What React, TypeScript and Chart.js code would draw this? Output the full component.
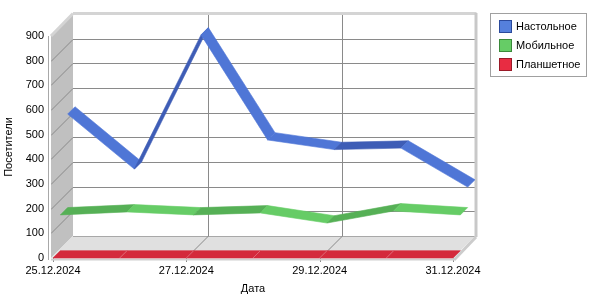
import React, { useEffect, useRef } from 'react';
import { Chart, registerables } from 'chart.js';

Chart.register(...registerables);

const categories = ['25.12.2024', '26.12.2024', '27.12.2024', '28.12.2024', '29.12.2024', '30.12.2024', '31.12.2024'];
const seriesNames = ['Настольное', 'Мобильное', 'Планшетное'];
const desktop = [524, 301, 845, 419, 380, 386, 228];
const mobile = [145, 157, 145, 153, 112, 161, 145];
const tablet = [0, 0, 0, 0, 0, 0, 0];
const yTicks = [0, 100, 200, 300, 400, 500, 600, 700, 800, 900];
const xTitle = 'Дата';
const yTitle = 'Посетители';

const palette = [
  { base: '#4f76d6', dark: '#3e5db6', legend: '#5580dc', border: '#2b4a9c' },
  { base: '#66cc66', dark: '#56b056', legend: '#66cc66', border: '#3a8a3a' },
  { base: '#d42a3c', dark: '#d42a3c', legend: '#e82c42', border: '#9a1a28' },
];

const DX = 22;
const DY = 22;

function poly(ctx: CanvasRenderingContext2D, pts: number[][], fill: string, stroke?: string) {
  ctx.beginPath();
  ctx.moveTo(pts[0][0], pts[0][1]);
  for (let i = 1; i < pts.length; i++) ctx.lineTo(pts[i][0], pts[i][1]);
  ctx.closePath();
  ctx.fillStyle = fill;
  ctx.fill();
  if (stroke) {
    ctx.strokeStyle = stroke;
    ctx.lineWidth = 0.6;
    ctx.stroke();
  }
}

function line(ctx: CanvasRenderingContext2D, x1: number, y1: number, x2: number, y2: number, color: string, w = 1) {
  ctx.beginPath();
  ctx.moveTo(x1, y1);
  ctx.lineTo(x2, y2);
  ctx.strokeStyle = color;
  ctx.lineWidth = w;
  ctx.stroke();
}

const box3d = {
  id: 'box3d',
  beforeDatasetsDraw(chart: any) {
    const { ctx, chartArea: a, scales } = chart;
    const xs = scales.x;
    const ys = scales.y;
    const L = a.left - 2;
    const R = a.right;
    const T = a.top;
    const B = a.bottom;
    ctx.save();
    // back wall
    ctx.fillStyle = '#ffffff';
    ctx.fillRect(L + DX, T - DY, R - L, B - T);
    // side wall
    poly(ctx, [[L, B], [L, T], [L + DX, T - DY], [L + DX, B - DY]], '#c0c0c0');
    // floor
    poly(ctx, [[L, B], [R, B], [R + DX, B - DY], [L + DX, B - DY]], '#e0e0e0');
    // horizontal grid
    for (const v of yTicks) {
      if (v === yTicks[0] || v === yTicks[yTicks.length - 1]) continue;
      const py = Math.round(ys.getPixelForValue(v)) + 0.5;
      line(ctx, L + DX, py - DY, R + DX, py - DY, '#8a8a8a');
      line(ctx, L, py, L + DX, py - DY, '#8a8a8a');
    }
    line(ctx, L + DX, B - DY + 0.5, R + DX, B - DY + 0.5, '#a8a8a8');
    // vertical grid at labelled categories
    for (let i = 2; i < categories.length - 1; i += 2) {
      const px = Math.round(xs.getPixelForValue(i)) + 0.5;
      line(ctx, px + DX, T - DY, px + DX, B - DY, '#8a8a8a');
      line(ctx, px, B, px + DX, B - DY, '#8a8a8a');
    }
    // tick marks
    for (let i = 0; i < categories.length; i += 2) {
      const px = Math.round(xs.getPixelForValue(i)) + 0.5;
      line(ctx, px, B, px, B + 4, '#8a8a8a');
    }
    // bevel edges
    line(ctx, L + DX, T - DY - 0.5, R + DX + 1.5, T - DY - 0.5, '#d4d4d4', 3);
    line(ctx, L, T, L + DX, T - DY - 0.5, '#d4d4d4', 3);
    line(ctx, R + DX + 1, T - DY - 1, R + DX + 1, B - DY + 1, '#c8c8c8', 3);
    line(ctx, R + DX + 1, B - DY + 1, R + 1, B + 2, '#cccccc', 3);
    line(ctx, L, B + 1.5, R + 1, B + 1.5, '#d0d0d0', 2);
    line(ctx, L - 1, T, L - 1, B + 1, '#ffffff', 2);
    line(ctx, L - 2.5, T, L - 2.5, B + 2, '#a8a8a8', 1);
    ctx.restore();
  },
  afterDatasetsDraw(chart: any) {
    const { ctx } = chart;
    const n = chart.data.datasets.length;
    ctx.save();
    for (let k = 0; k < n; k++) {
      const meta = chart.getDatasetMeta(k);
      const data = chart.data.datasets[k].data as number[];
      const row = n - 1 - k;
      const f = row / n;
      const b = (row + 1) / n;
      const c = palette[k];
      const pts = meta.data.map((e: any) => ({ x: e.x, y: e.y }));
      for (let i = 0; i < pts.length - 1; i++) {
        const p0 = pts[i];
        const p1 = pts[i + 1];
        const quad = [
          [p0.x + f * DX, p0.y - f * DY],
          [p1.x + f * DX, p1.y - f * DY],
          [p1.x + b * DX, p1.y - b * DY],
          [p0.x + b * DX, p0.y - b * DY],
        ];
        const col = data[i + 1] > data[i] ? c.dark : c.base;
        poly(ctx, quad, col, col);
      }
      if (k === n - 1) {
        for (let i = 1; i < pts.length - 1; i++) {
          const p = pts[i];
          line(ctx, p.x + f * DX, p.y - f * DY, p.x + b * DX, p.y - b * DY, 'rgba(255,255,255,0.25)', 1);
        }
      }
    }
    ctx.restore();
  },
  afterDraw(chart: any) {
    const { ctx } = chart;
    ctx.save();
    ctx.fillStyle = '#ffffff';
    ctx.fillRect(490.5, 13.5, 96, 63);
    ctx.strokeStyle = '#a0a0a0';
    ctx.lineWidth = 1;
    ctx.strokeRect(490.5, 13.5, 96, 63);
    ctx.font = '11px "Liberation Sans", Arial, sans-serif';
    ctx.textBaseline = 'middle';
    ctx.textAlign = 'left';
    chart.data.datasets.forEach((ds: any, i: number) => {
      const top = 20.5 + i * 19;
      ctx.fillStyle = palette[i].legend;
      ctx.fillRect(499.5, top, 12, 12);
      ctx.strokeStyle = palette[i].border;
      ctx.strokeRect(499.5, top, 12, 12);
      ctx.fillStyle = '#000000';
      ctx.fillText(ds.label, 516, top + 6.5);
    });
    ctx.restore();
  },
};

export default function App() {
  const ref = useRef<HTMLCanvasElement>(null);
  useEffect(() => {
    const canvas = ref.current;
    if (!canvas) return;
    Chart.defaults.font.family = '"Liberation Sans", Arial, sans-serif';
    Chart.defaults.font.size = 11;
    Chart.defaults.color = '#000000';
    const chart = new Chart(canvas, {
      type: 'line',
      data: {
        labels: categories,
        datasets: [
          { label: seriesNames[0], data: desktop, showLine: false, pointRadius: 0, borderColor: palette[0].base, backgroundColor: palette[0].base },
          { label: seriesNames[1], data: mobile, showLine: false, pointRadius: 0, borderColor: palette[1].base, backgroundColor: palette[1].base },
          { label: seriesNames[2], data: tablet, showLine: false, pointRadius: 0, borderColor: palette[2].base, backgroundColor: palette[2].base },
        ],
      },
      options: {
        responsive: false,
        animation: false,
        events: [],
        layout: { padding: { top: 36, right: 147, bottom: 0, left: 0 } },
        plugins: { legend: { display: false }, tooltip: { enabled: false } },
        scales: {
          x: {
            type: 'category',
            offset: false,
            grid: { display: false, drawTicks: true, tickLength: 4 },
            border: { display: false },
            ticks: {
              autoSkip: false,
              maxRotation: 0,
              padding: 2,
              color: '#000000',
              callback: (_v: any, i: number) => (i % 2 === 0 ? categories[i] : ''),
            },
            title: { display: true, text: xTitle, color: '#000000', padding: { top: 4, bottom: 4 } },
            afterFit: (s: any) => { s.height = 42; },
          },
          y: {
            type: 'linear',
            min: yTicks[0],
            max: yTicks[yTicks.length - 1],
            grid: { display: false, drawTicks: false },
            border: { display: false },
            ticks: { stepSize: 100, padding: 9, color: '#000000' },
            title: { display: true, text: yTitle, color: '#000000', padding: { top: 2, bottom: 0 } },
            afterFit: (s: any) => { s.width = 53; },
          },
        },
      },
      plugins: [box3d],
    } as any);
    return () => chart.destroy();
  }, []);
  return (
    <div style={{ position: 'fixed', left: 0, top: 0, width: 600, height: 300, background: '#ffffff' }}>
      <canvas ref={ref} width={600} height={300} style={{ display: 'block' }} />
    </div>
  );
}
